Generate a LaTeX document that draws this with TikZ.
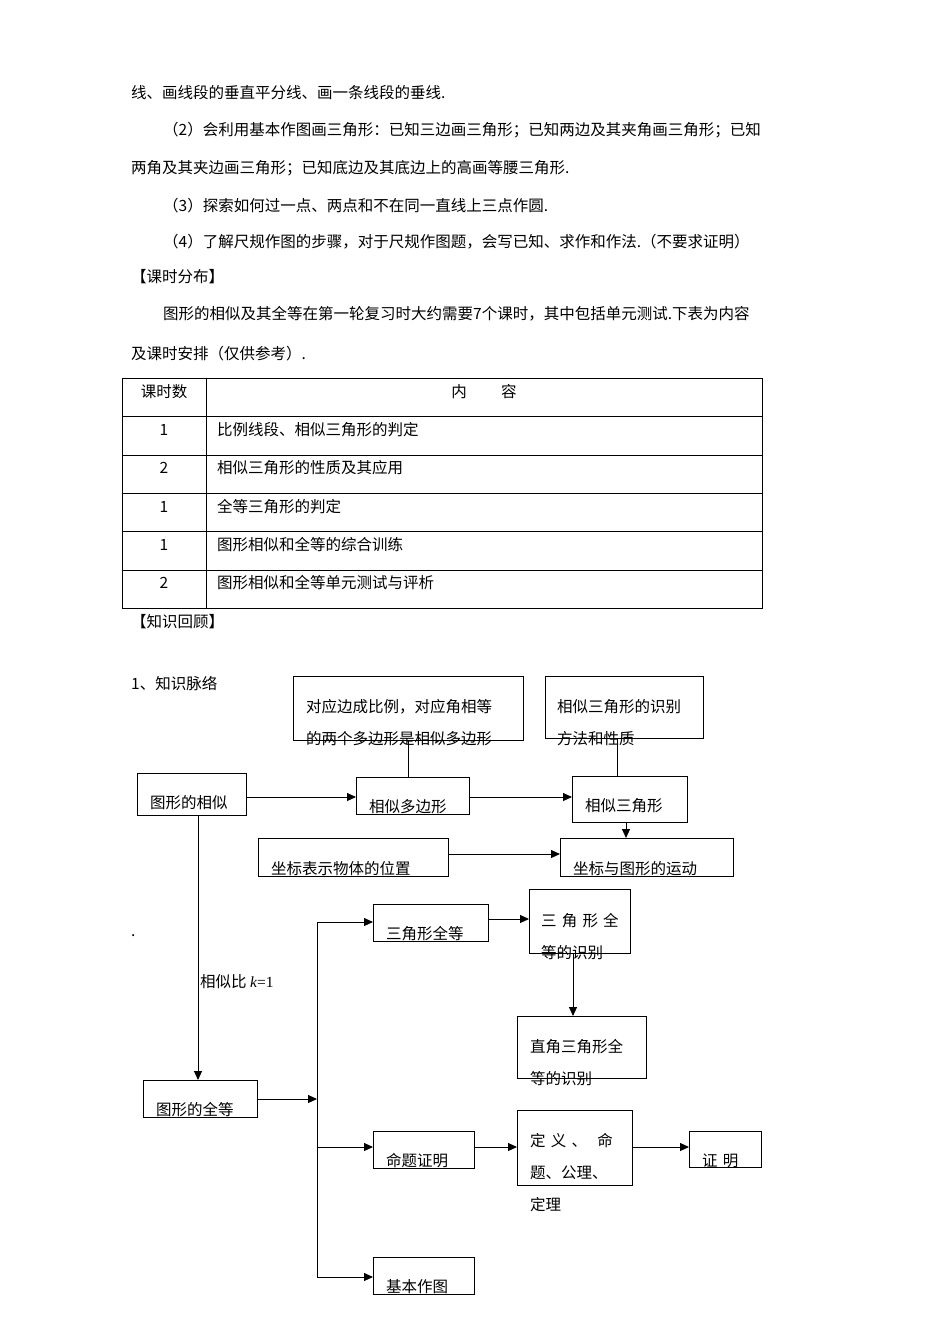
\documentclass[tikz,border=0pt]{standalone}
\usepackage{fontspec}
\setmainfont{Liberation Serif}
\newfontfamily\cjk{Noto Sans CJK SC}
\usetikzlibrary{arrows.meta}
\tikzset{
  bx/.style={draw,line width=1.1pt,anchor=north west,inner sep=0pt},
  tx/.style={anchor=base west,inner sep=0pt,font=\cjk\fontsize{15.5}{18}\selectfont},
  ln/.style={line width=0.9pt},
  arr/.style={line width=0.9pt,-{Triangle[length=9pt,width=8pt]}}
}
\newcommand{\bxx}[5]{\node[bx,minimum width=#4pt,minimum height=#5pt] (#1) at (#2,#3) {};}
\begin{document}
\begin{tikzpicture}[x=1pt,y=-1pt]
\useasboundingbox (0,0) rectangle (950,1344);
% paragraph text
\node[tx] (p1) at (131,98) {线、画线段的垂直平分线、画一条线段的垂线.};
\node[tx] (p2) at (163,135) {（2）会利用基本作图画三角形：已知三边画三角形；已知两边及其夹角画三角形；已知};
\node[tx] (p3) at (131,173) {两角及其夹边画三角形；已知底边及其底边上的高画等腰三角形.};
\node[tx] (p4) at (163,211) {（3）探索如何过一点、两点和不在同一直线上三点作圆.};
\node[tx] (p5) at (163,247) {（4）了解尺规作图的步骤，对于尺规作图题，会写已知、求作和作法.（不要求证明）};
\node[tx] (p6) at (131,282) {【课时分布】};
\node[tx] (p7) at (163,319) {图形的相似及其全等在第一轮复习时大约需要7个课时，其中包括单元测试.下表为内容};
\node[tx] (p8) at (131,359) {及课时安排（仅供参考）.};
% table
\draw[line width=1pt] (122,378) rectangle (762,608);
\foreach \y in {416,455,493,531,570} \draw[line width=0.8pt] (122,\y) -- (762,\y);
\draw[line width=0.8pt] (206,378) -- (206,608);
\node[tx,anchor=base] (h1) at (164,397) {课时数};
\node[tx,anchor=base] (h2) at (484,397) {内\hspace{2.2em}容};
\foreach \y/\n/\t in {435/1/比例线段、相似三角形的判定,473/2/相似三角形的性质及其应用,512/1/全等三角形的判定,550/1/图形相似和全等的综合训练,588/2/图形相似和全等单元测试与评析}{
  \node[tx,anchor=base] at (164,\y) {\n};
  \node[tx] at (217,\y) {\t};
}
\node[tx] (p9) at (131,627) {【知识回顾】};
\node[tx] (p10) at (131,689) {1、知识脉络};
% boxes
\bxx{A}{293}{676}{230}{64}
\bxx{B}{545}{676}{158}{62}
\bxx{C}{137}{773}{109}{42}
\bxx{D}{356}{777}{113}{37}
\bxx{E}{572}{776}{115}{46}
\bxx{F}{560}{838}{173}{38}
\bxx{G}{258}{838}{190}{38}
\bxx{H}{373}{904}{115}{37}
\bxx{I}{529}{889}{101}{64}
\bxx{J}{517}{1016}{129}{62}
\bxx{K}{143}{1080}{114}{37}
\bxx{L}{373}{1131}{101}{37}
\bxx{M}{517}{1110}{115}{75}
\bxx{O}{689}{1131}{72}{36}
\bxx{N}{373}{1257}{101}{37}
% box texts
\node[tx] at (306,712) {对应边成比例，对应角相等};
\node[tx] at (306,744) {的两个多边形是相似多边形};
\node[tx] at (557,712) {相似三角形的识别};
\node[tx] at (557,744) {方法和性质};
\node[tx] at (150,808) {图形的相似};
\node[tx] at (369,812) {相似多边形};
\node[tx] at (585,811) {相似三角形};
\node[tx] at (573,874) {坐标与图形的运动};
\node[tx] at (271,874) {坐标表示物体的位置};
\node[tx] at (386,939) {三角形全等};
\node[tx] at (541,926) {三\,\,角\,\,形\,\,全};
\node[tx] at (541,958) {等的识别};
\node[tx] at (530,1052) {直角三角形全};
\node[tx] at (530,1084) {等的识别};
\node[tx] at (156,1115) {图形的全等};
\node[tx] at (386,1166) {命题证明};
\node[tx] at (530,1146) {定\,\,义\,\,、\,\,\,\,命};
\node[tx] at (530,1178) {题、公理、};
\node[tx] at (530,1210) {定理};
\node[tx] at (702,1166) {证\,\,明};
\node[tx] at (386,1292) {基本作图};
\node[tx] at (131,936) {.};
\node[tx] (kl) at (200,987) {相似比 {\fontspec{Liberation Serif}\itshape k}{\fontspec{Liberation Serif}=1}};
% connectors
\coordinate (T1) at (317,922);
\coordinate (T2) at (317,1277);
\draw[ln] (A.south -| 408,0) -- (D.north -| 408,0);
\draw[ln] (B.south -| 617,0) -- (E.north -| 617,0);
\draw[arr] (C.east |- 0,797) -- (D.west |- 0,797);
\draw[arr] (D.east |- 0,797) -- (E.west |- 0,797);
\draw[arr] (E.south -| 626,0) -- (F.north -| 626,0);
\draw[arr] (G.east |- 0,854) -- (F.west |- 0,854);
\draw[arr] (H.east |- 0,919) -- (I.west |- 0,919);
\draw[arr] (I.south -| 573,0) -- (J.north -| 573,0);
\draw[arr] (C.south -| 198,0) -- (K.north -| 198,0);
\draw[arr] (K.east |- 0,1099) -- (317,1099);
\draw[ln] (T1) -- (T2);
\draw[arr] (T1) -- (H.west |- T1);
\draw[arr] (317,1147) -- (L.west |- 0,1147);
\draw[arr] (T2) -- (N.west |- T2);
\draw[arr] (L.east |- 0,1147) -- (M.west |- 0,1147);
\draw[arr] (M.east |- 0,1147) -- (O.west |- 0,1147);
\end{tikzpicture}
\end{document}
